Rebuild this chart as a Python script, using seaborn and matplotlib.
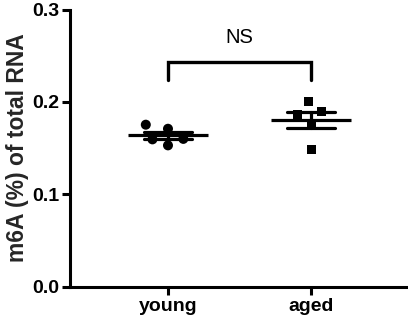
import numpy as np
import pandas as pd
import matplotlib
matplotlib.use("Agg")
import matplotlib.pyplot as plt
import seaborn as sns

# ---- data ----
categories = ["young", "aged"]
young_values = [0.1754, 0.171, 0.160, 0.1595, 0.153]
aged_values = [0.2005, 0.190, 0.1865, 0.1765, 0.149]
y_ticks = [0.0, 0.1, 0.2, 0.3]
y_label = "m6A (%) of total RNA"
sig_label = "NS"

df = pd.DataFrame({
    "group": ["young"] * len(young_values) + ["aged"] * len(aged_values),
    "value": young_values + aged_values,
})

sns.set_style("ticks")
plt.rcParams["font.family"] = ["Liberation Sans", "DejaVu Sans"]

fig = plt.figure(figsize=(4.08, 3.23), dpi=100)
ax = fig.add_axes([70 / 408, 36.5 / 323, 338 / 408, 276.75 / 323])

# invisible edge widens the swarm spacing like the Prism scatter
sns.swarmplot(data=df[df.group == "young"], x="group", y="value", order=categories,
              color="black", marker="o", size=7.2, linewidth=4.3, edgecolor="none",
              ax=ax, zorder=3)
sns.swarmplot(data=df[df.group == "aged"], x="group", y="value", order=categories,
              color="black", marker="s", size=6.5, linewidth=5.0, edgecolor="none",
              ax=ax, zorder=3)

sns.pointplot(data=df, x="group", y="value", order=categories, errorbar="se",
              capsize=0.34, color="black", markers="_", markersize=58,
              markeredgewidth=2.3, linestyle="none",
              err_kws={"linewidth": 2.3}, ax=ax, zorder=4)

ax.set_xlim(-0.685, 1.678)
ax.set_ylim(0, 0.3)
ax.set_yticks(y_ticks)
ax.set_yticklabels([f"{t:.1f}" for t in y_ticks])
ax.set_xlabel("")
ax.set_ylabel(y_label, fontsize=16.5, fontweight="bold", labelpad=2)

for lab in ax.get_xticklabels() + ax.get_yticklabels():
    lab.set_fontweight("bold")
    lab.set_fontsize(14)

sns.despine(ax=ax)
for s in ["left", "bottom"]:
    ax.spines[s].set_linewidth(2.2)
    ax.spines[s].set_color("black")
ax.tick_params(axis="both", width=2.2, length=6, color="black", labelcolor="black", pad=2)

# significance bracket
bt, bb = 0.2437, 0.2238
ax.plot([0, 0, 1, 1], [bb, bt, bt, bb], color="black", lw=2.4,
        solid_joinstyle="miter", clip_on=False)
ax.text(0.5, 0.270, sig_label, ha="center", va="center", fontsize=14.5, color="black")

fig.savefig("out.png", dpi=100)
